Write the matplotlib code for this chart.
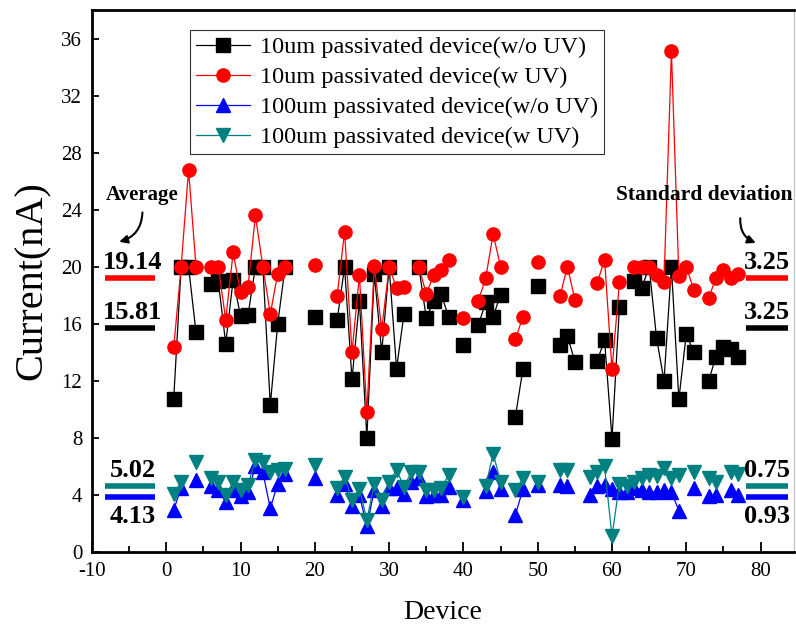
import numpy as np
import pandas as pd
import matplotlib
matplotlib.use('Agg')
import matplotlib.pyplot as plt
from matplotlib.ticker import MultipleLocator

plt.rcParams['font.family'] = ['Liberation Serif', 'DejaVu Serif']
plt.rcParams['axes.unicode_minus'] = False

# devices measured for the 10um series (same for both)
dev_10 = [1, 2, 3, 4, 6, 7, 8, 9, 10, 11, 12, 13, 14, 15, 16, 20, 23, 24, 25, 26,
          27, 28, 29, 30, 31, 32, 34, 35, 36, 37, 38, 40, 42, 43, 44, 45, 47, 48, 50, 53,
          54, 55, 58, 59, 60, 61, 63, 64, 65, 66, 67, 68, 69, 70, 71, 73, 74, 75, 76, 77]
cur_10_noUV = [10.75, 20, 20, 15.4, 18.8, 19.0, 14.6, 19.1, 16.55, 16.6,
               20, 20, 10.3, 16.0, 20, 16.5, 16.25, 20, 12.1, 17.6,
               8.0, 19.5, 14.0, 20, 12.85, 16.7, 20, 16.4, 17.6, 18.1,
               16.5, 14.5, 15.9, 17.5, 16.5, 18.05, 9.5, 12.8, 18.65, 14.5,
               15.15, 13.35, 13.4, 14.85, 7.95, 17.2, 19.0, 18.5, 20, 15.0,
               12.0, 20, 10.7, 15.3, 14.0, 12.0, 13.7, 14.4, 14.2, 13.7]
cur_10_UV = [14.35, 20, 26.8, 20, 20, 20, 16.3, 21.0, 18.2, 18.6,
             23.6, 20, 16.7, 19.5, 20, 20.1, 17.95, 22.45, 14.0, 19.4,
             9.8, 20.05, 15.6, 20, 18.5, 18.6, 20, 18.1, 19.4, 19.8,
             20.5, 16.4, 17.6, 19.2, 22.3, 20, 14.9, 16.5, 20.3, 17.95,
             20, 17.7, 18.85, 20.5, 12.8, 18.9, 20, 20, 20, 19.4,
             18.9, 35.1, 19.35, 20, 18.4, 17.8, 19.2, 19.8, 19.2, 19.5]

# devices measured for the 100um series
dev_100 = [1, 2, 4, 6, 7, 8, 9, 10, 11, 12, 13, 14, 15, 16, 20, 23, 24, 25, 26, 27,
           28, 29, 30, 31, 32, 33, 34, 35, 36, 37, 38, 40, 43, 44, 45, 47, 48, 50, 53, 54,
           57, 58, 59, 60, 61, 62, 63, 64, 65, 66, 67, 68, 69, 71, 73, 74, 76, 77]
cur_100_noUV = [2.95, 4.5, 5.05, 4.6, 4.35, 3.5, 4.35, 3.9, 4.2, 6.0,
                5.6, 3.05, 4.8, 5.5, 5.2, 4.0, 4.8, 3.2, 4.0, 1.8,
                4.35, 3.2, 4.5, 4.5, 4.1, 4.93, 5.17, 3.9, 4.0, 4.0,
                4.58, 3.65, 4.3, 5.63, 4.4, 2.6, 4.4, 4.7, 4.7, 4.6,
                4.0, 4.6, 4.7, 4.4, 4.23, 4.2, 4.47, 4.35, 4.23, 4.2,
                4.35, 4.2, 2.9, 4.47, 3.9, 4.0, 4.35, 4.0]
cur_100_UV = [4.1, 4.9, 6.3, 5.17, 4.9, 4.0, 4.9, 4.35, 4.7, 6.45,
              6.3, 5.6, 5.75, 5.8, 6.1, 4.5, 5.25, 3.65, 4.45, 2.24,
              4.8, 3.65, 4.93, 5.75, 4.58, 5.63, 5.63, 4.35, 4.35, 4.47,
              5.4, 3.88, 4.6, 6.9, 4.93, 4.35, 5.17, 4.93, 5.75, 5.75,
              5.28, 5.6, 6.0, 1.1, 4.8, 4.6, 4.93, 5.2, 5.4, 5.3,
              5.87, 5.2, 5.4, 5.63, 5.2, 4.93, 5.63, 5.5]

labels = ['10um passivated device(w/o UV)', '10um passivated device(w UV)',
          '100um passivated device(w/o UV)', '100um passivated device(w UV)']
avg_text = ['15.81', '19.14', '4.13', '5.02']
std_text = ['3.25', '3.25', '0.93', '0.75']
bar_y = [15.7, 19.2, 3.88, 4.62]   # heights of the short marker bars


def full(devs, vals):
    # put on device grid so missing devices break the line
    s = pd.Series(vals, index=devs).reindex(range(1, 78))
    return s.index.values, s.values


fig = plt.figure(figsize=(7.96, 6.28), dpi=100)
ax = fig.add_axes([92 / 796, 1 - 552 / 628, 702 / 796, 542 / 628])

styles = [('black', 's'), ('red', 'o'), ('blue', '^'), ('#008080', 'v')]
series = [(dev_10, cur_10_noUV), (dev_10, cur_10_UV),
          (dev_100, cur_100_noUV), (dev_100, cur_100_UV)]
for (d, v), (c, m), lab in zip(series, styles, labels):
    x, y = full(d, v)
    ax.plot(x, y, color=c, lw=0.9, marker=m, ms=9.5, mec=c, mfc=c, label=lab)

ax.set_xlim(-10, 84.5)
ax.set_ylim(0, 38)
ax.xaxis.set_major_locator(MultipleLocator(10))
ax.xaxis.set_minor_locator(MultipleLocator(5))
ax.yaxis.set_major_locator(MultipleLocator(4))
ax.tick_params(direction='in', which='major', length=7, width=1.3, labelsize=15, pad=7)
ax.tick_params(direction='in', which='minor', length=4, width=1.3)
ax.tick_params(axis='y', length=5)
for s in ['left', 'bottom', 'top']:
    ax.spines[s].set_linewidth(2)
ax.spines['right'].set_color('#c8c8c8')
ax.spines['right'].set_linewidth(1)

ax.set_xlabel('Device', fontsize=20, labelpad=14)
ax.set_ylabel('Current(nA)', fontsize=29, labelpad=8)

leg = ax.legend(loc='upper left', bbox_to_anchor=(0.14, 0.963), fontsize=17.5,
                frameon=True, fancybox=False, edgecolor='black', borderaxespad=0,
                handlelength=2.2, labelspacing=0.33, borderpad=0.25, handletextpad=0.4)
leg.get_frame().set_linewidth(0.8)

bar_cols = ['black', 'red', 'blue', '#008080']
txt_off = [1.3, 1.3, -1.2, 0.8]
for yb, c, a, sd, off in zip(bar_y, bar_cols, avg_text, std_text, txt_off):
    ax.plot([-8.3, -1.5], [yb, yb], color=c, lw=4, solid_capstyle='butt')
    ax.plot([78.0, 83.7], [yb, yb], color=c, lw=4, solid_capstyle='butt')
    va = 'bottom' if off > 0 else 'top'
    ty = yb + 0.3 if off > 0 else yb - 0.6
    ax.text(-4.5, ty, a, ha='center', va=va, fontsize=19, fontweight='bold')
    ax.text(80.9, ty, sd, ha='center', va=va, fontsize=19, fontweight='bold')

ax.text(-3.3, 25.0, 'Average', ha='center', va='center', fontsize=15, fontweight='bold')
ax.annotate('', xy=(-6.7, 21.7), xytext=(-3.2, 24.0),
            arrowprops=dict(arrowstyle='-|>', color='black', lw=1.5,
                            connectionstyle='arc3,rad=-0.4', mutation_scale=12))
ax.text(84.3, 25.0, 'Standard deviation', ha='right', va='center', fontsize=15.5,
        fontweight='bold')
ax.annotate('', xy=(79.7, 21.6), xytext=(77.3, 23.6),
            arrowprops=dict(arrowstyle='-|>', color='black', lw=1.5,
                            connectionstyle='arc3,rad=0.4', mutation_scale=12))

plt.savefig('out.png', dpi=100)
